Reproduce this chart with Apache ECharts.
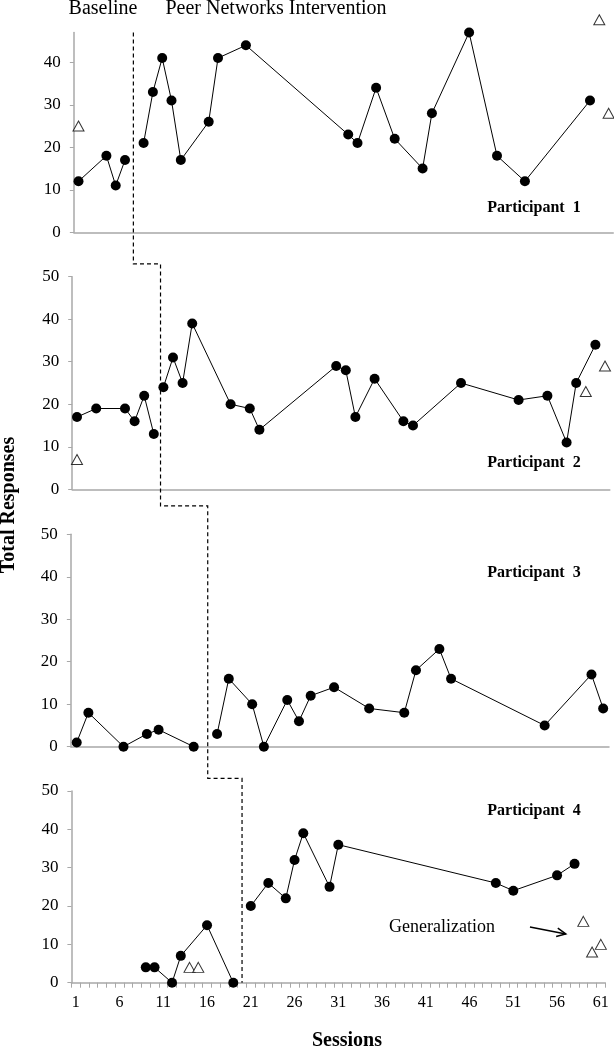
<!DOCTYPE html>
<html>
<head>
<meta charset="utf-8">
<script src="https://cdn.jsdelivr.net/npm/echarts@6/dist/echarts.min.js"></script>
<style>html,body{margin:0;padding:0;background:#fff}#c{width:614px;height:1050px}</style>
</head>
<body>
<div id="c"></div>
<script>
// ---------- DATA ----------
// Participant 1 (own session axis, 58 slots)
const p1BaseSessions = [1, 4, 5, 6];
const p1BaseValues = [12, 18, 11, 17];
const p1TreatSessions = [8, 9, 10, 11, 12, 15, 16, 19, 30, 31, 33, 35, 38, 39, 43, 46, 49, 56];
const p1TreatValues = [21, 33, 41, 31, 17, 26, 41, 44, 23, 21, 34, 22, 15, 28, 47, 18, 12, 31];
const p1GenSessions = [1, 57, 58];
const p1GenValues = [25, 50, 28];
// Participant 2 (56 slots)
const p2BaseSessions = [1, 3, 6, 7, 8, 9];
const p2BaseValues = [17, 19, 19, 16, 22, 13];
const p2TreatSessions = [10, 11, 12, 13, 17, 19, 20, 28, 29, 30, 32, 35, 36, 41, 47, 50, 52, 53, 55];
const p2TreatValues = [24, 31, 25, 39, 20, 19, 14, 29, 28, 17, 26, 16, 15, 25, 21, 22, 11, 25, 34];
const p2GenSessions = [1, 54, 56];
const p2GenValues = [7, 23, 29];
// Participant 3 (46 slots)
const p3BaseSessions = [1, 2, 5, 7, 8, 11];
const p3BaseValues = [1, 8, 0, 3, 4, 0];
const p3TreatSessions = [13, 14, 16, 17, 19, 20, 21, 23, 26, 29, 30, 32, 33, 41, 45, 46];
const p3TreatValues = [3, 16, 10, 0, 11, 6, 12, 14, 9, 8, 18, 23, 16, 5, 17, 9];
// Participant 4 (61 sessions, labelled axis)
const p4BaseSessions = [9, 10, 12, 13, 16, 19];
const p4BaseValues = [4, 4, 0, 7, 15, 0];
const p4TreatSessions = [21, 23, 25, 26, 27, 30, 31, 49, 51, 56, 58];
const p4TreatValues = [20, 26, 22, 32, 39, 25, 36, 26, 24, 28, 31];
const p4GenSessions = [14, 15, 59, 60, 61];
const p4GenValues = [4, 4, 16, 8, 10];

const sessionLabels = ['1','2','3','4','5','6','7','8','9','10','11','12','13','14','15','16','17','18','19','20',
  '21','22','23','24','25','26','27','28','29','30','31','32','33','34','35','36','37','38','39','40',
  '41','42','43','44','45','46','47','48','49','50','51','52','53','54','55','56','57','58','59','60','61'];
const slotCounts = [58, 56, 46];
const yTicksTop = [0, 10, 20, 30, 40];
const participantNames = ['Participant  1', 'Participant  2', 'Participant  3', 'Participant  4'];
// phase-change line: session position in each panel and connector levels
const phaseChange = [6.9, 9.7, 12.2, 20];
const connectorLevels = [53, 56.7, 53.3];

// ---------- CHART ----------
const FONT = "'Liberation Serif', 'Times New Roman', serif";
const GRAY = '#a8a8a8';
const chart = echarts.init(document.getElementById('c'), null, {renderer: 'canvas'});

const grids = [
  {left: 73.85, right: 0.75, top: 32.55, height: 199.75},
  {left: 72.2, right: 4.2, top: 276.7, height: 212.6},
  {left: 70.85, right: 5, top: 534.3, height: 212.4},
  {left: 71.4, right: 8.8, top: 791, height: 191.7}
];

const xAxes = [0, 1, 2].map(i => ({
  type: 'value', gridIndex: i, min: 0.5, max: slotCounts[i] + 0.5,
  axisLine: {show: true, onZero: false, lineStyle: {color: GRAY, width: 1.5}},
  axisTick: {show: false}, axisLabel: {show: false}, splitLine: {show: false}
}));
xAxes.push({
  type: 'category', gridIndex: 3, data: sessionLabels, boundaryGap: true,
  axisLine: {show: true, lineStyle: {color: GRAY, width: 1.5}},
  axisTick: {show: true, interval: 0, length: 5, lineStyle: {color: GRAY}},
  axisLabel: {interval: 4, color: '#000', fontFamily: FONT, fontSize: 16, margin: 12},
  splitLine: {show: false}
});

const yAxes = [0, 1, 2, 3].map(i => {
  const ax = {
    type: 'value', gridIndex: i, min: 0, max: i === 0 ? 47 : 50, interval: 10,
    axisLine: {show: true, lineStyle: {color: GRAY, width: 1.5}},
    axisTick: {show: true, length: 4, lineStyle: {color: GRAY}},
    axisLabel: {color: '#000', fontFamily: FONT, fontSize: 17, margin: 13},
    splitLine: {show: false}
  };
  if (i === 0) {
    ax.axisTick.customValues = yTicksTop;
    ax.axisLabel.customValues = yTicksTop;
  }
  return ax;
});

function pairs(sess, vals, cat) {
  return sess.map((s, k) => [cat ? String(s) : s, vals[k]]);
}
const panels = [
  [p1BaseSessions, p1BaseValues, p1TreatSessions, p1TreatValues, p1GenSessions, p1GenValues],
  [p2BaseSessions, p2BaseValues, p2TreatSessions, p2TreatValues, p2GenSessions, p2GenValues],
  [p3BaseSessions, p3BaseValues, p3TreatSessions, p3TreatValues, null, null],
  [p4BaseSessions, p4BaseValues, p4TreatSessions, p4TreatValues, p4GenSessions, p4GenValues]
];
const series = [];
panels.forEach((p, i) => {
  const cat = i === 3;
  const lineBase = {
    type: 'line', xAxisIndex: i, yAxisIndex: i, symbol: 'circle', symbolSize: 10,
    showSymbol: true, showAllSymbol: true,
    clip: false, silent: true,
    lineStyle: {color: '#000', width: 1}, itemStyle: {color: '#000'}
  };
  series.push(Object.assign({}, lineBase, {name: 'base' + i, data: pairs(p[0], p[1], cat)}));
  series.push(Object.assign({}, lineBase, {name: 'treat' + i, data: pairs(p[2], p[3], cat)}));
  if (p[4]) {
    series.push({
      type: 'scatter', xAxisIndex: i, yAxisIndex: i, symbol: 'triangle', symbolSize: [11, 10],
      clip: false, silent: true, name: 'gen' + i, z: 3,
      itemStyle: {color: '#fff', borderColor: '#000', borderWidth: 1},
      data: pairs(p[4], p[5], cat)
    });
  }
});

chart.setOption({
  animation: false,
  backgroundColor: '#fff',
  grid: grids,
  xAxis: xAxes,
  yAxis: yAxes,
  series: series
});

// ---------- ANNOTATIONS ----------
function X(i, s) {
  if (i < 3) return chart.convertToPixel({xAxisIndex: i}, s);
  const a = chart.convertToPixel({xAxisIndex: 3}, '1');
  const b = chart.convertToPixel({xAxisIndex: 3}, '61');
  return a + (s - 1) * (b - a) / 60;
}
function Y(i, v) { return chart.convertToPixel({yAxisIndex: i}, v); }

const dashPts = [
  [X(0, phaseChange[0]), Y(0, 47)],
  [X(0, phaseChange[0]), Y(1, connectorLevels[0])],
  [X(1, phaseChange[1]), Y(1, connectorLevels[0])],
  [X(1, phaseChange[1]), Y(2, connectorLevels[1])],
  [X(2, phaseChange[2]), Y(2, connectorLevels[1])],
  [X(2, phaseChange[2]), Y(3, connectorLevels[2])],
  [X(3, phaseChange[3]), Y(3, connectorLevels[2])],
  [X(3, phaseChange[3]), Y(3, 0)]
];

const aFrom = [X(3, 52.9), Y(3, 14.5)];
const aTo = [X(3, 57.0), Y(3, 12.7)];
const ang = Math.atan2(aTo[1] - aFrom[1], aTo[0] - aFrom[0]);
const hl = 10, ha = 0.45;
const w1 = [aTo[0] - hl * Math.cos(ang - ha), aTo[1] - hl * Math.sin(ang - ha)];
const w2 = [aTo[0] - hl * Math.cos(ang + ha), aTo[1] - hl * Math.sin(ang + ha)];

const partY = [208.3, 463.3, 573.3, 811];
const graphics = [
  {type: 'polyline', shape: {points: dashPts}, style: {stroke: '#000', lineWidth: 1.2, lineDash: [4, 3], fill: null}, z: 10},
  {type: 'line', shape: {x1: aFrom[0], y1: aFrom[1], x2: aTo[0], y2: aTo[1]}, style: {stroke: '#000', lineWidth: 1.5}, z: 10},
  {type: 'polyline', shape: {points: [w1, aTo, w2]}, style: {stroke: '#000', lineWidth: 1.5, fill: null}, z: 10},
  {type: 'text', x: 103, y: 9, style: {text: 'Baseline', font: '20px ' + FONT, fill: '#000', align: 'center', verticalAlign: 'middle'}},
  {type: 'text', x: 276, y: 9, style: {text: 'Peer Networks Intervention', font: '20px ' + FONT, fill: '#000', align: 'center', verticalAlign: 'middle'}},
  {type: 'text', x: 8.5, y: 505, rotation: Math.PI / 2, style: {text: 'Total Responses', font: 'bold 20px ' + FONT, fill: '#000', align: 'center', verticalAlign: 'middle'}},
  {type: 'text', x: 347, y: 1041, style: {text: 'Sessions', font: 'bold 20px ' + FONT, fill: '#000', align: 'center', verticalAlign: 'middle'}},
  {type: 'text', x: 442, y: 927, style: {text: 'Generalization', font: '18px ' + FONT, fill: '#000', align: 'center', verticalAlign: 'middle'}}
];
participantNames.forEach((t, i) => {
  graphics.push({type: 'text', x: 534, y: partY[i], style: {text: t, font: 'bold 16px ' + FONT, fill: '#000', align: 'center', verticalAlign: 'middle'}});
});
chart.setOption({graphic: graphics});
</script>
</body>
</html>
